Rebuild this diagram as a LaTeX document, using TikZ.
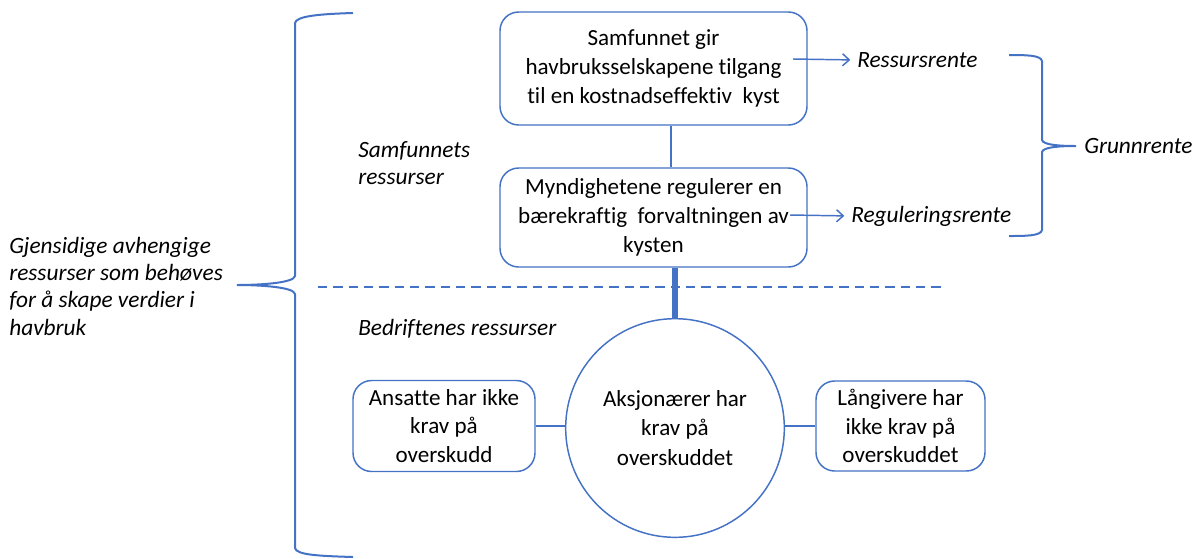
\documentclass[tikz,border=0pt]{standalone}
\usepackage{fontspec}
\setmainfont[Ligatures={NoCommon}]{Carlito}
\usetikzlibrary{arrows.meta,calc}
\definecolor{obl}{HTML}{4472C4}
\tikzset{
  rbox/.style={draw=obl, line width=1.1pt, rounded corners=14pt, align=center, inner sep=2pt, font=\fontsize{17.3}{21.5}\selectfont},
  lbl/.style={align=left, inner sep=0pt, font=\fontsize{17.5}{20.5}\selectfont\itshape},
  con/.style={draw=obl, line width=1.1pt},
  arr/.style={draw=obl, line width=1.1pt, shorten >=5pt, -{Straight Barb[length=5pt,width=9pt]}},
  brace/.style={draw=obl, line width=1.5pt}
}
\begin{document}
\begin{tikzpicture}[x=0.75pt,y=-0.75pt]
\useasboundingbox (0,0) rectangle (1200,558);
% boxes
\node[rbox, minimum width=230.25pt, minimum height=84.75pt] (b1) at (653.5,68.5)
  {Samfunnet gir\\havbruksselskapene tilgang\\til en kostnadseffektiv\ \ kyst};
\node[rbox, minimum width=230.25pt, minimum height=74.25pt] (b2) at (653.5,217.5)
  {Myndighetene regulerer en\\bærekraftig\ \ forvaltningen av\\kysten};
\node[rbox, minimum width=136.5pt, minimum height=68.25pt] (la) at (444,426)
  {Ansatte har ikke\\krav på\\overskudd};
\node[rbox, minimum width=126.75pt, minimum height=67.5pt] (ra) at (900.5,426)
  {Långivere har\\ikke krav på\\overskuddet};
\node[draw=obl, line width=1.1pt, circle, minimum size=164pt, inner sep=0pt, align=center,
  font=\fontsize{17.3}{22}\selectfont] (ci) at (675,428)
  {Aksjonærer har\\krav på\\overskuddet};
% labels
\node[lbl, anchor=west] (rr) at (857,60) {Ressursrente};
\node[lbl, anchor=west] (rg) at (851,216) {Reguleringsrente};
\node[lbl, anchor=west] (gr) at (1084,146) {Grunnrente};
\node[lbl, anchor=west] (sr) at (358,163) {Samfunnets\\ressurser};
\node[lbl, anchor=west] (br) at (358,329) {Bedriftenes ressurser};
\node[lbl, anchor=west] (gj) at (9,286)
  {Gjensidige avhengige\\ressurser som behøves\\for å skape verdier i\\havbruk};
% connectors
\coordinate (v1) at (671,0);
\draw[con] (b1.south -| v1) -- (b2.north -| v1);
\draw[draw=obl, line width=3.8pt] (b2.south -| ci) -- (ci.north);
\draw[con] (la.east) -- (la.east -| ci.west);
\draw[con] (ci.east |- ra.west) -- (ra.west);
\coordinate (a1) at (793,59);
\coordinate (a2) at (790,215);
\draw[arr] (a1) -- (rr.west);
\draw[arr] (a2) -- (rg.west);
% dashed separator
\coordinate (d1) at (318,287);
\coordinate (d2) at (945,287);
\draw[draw=obl, line width=1.1pt, dash pattern=on 7pt off 4.5pt] (d1) -- (d2);
% left brace
\draw[brace] (353,13) .. controls (320,14) and (296,16) .. (295,23)
  -- (295,276) .. controls (294,283) and (260,285) .. (237,285)
  .. controls (260,285) and (294,287) .. (295,294)
  -- (295,548) .. controls (296,555) and (320,556) .. (353,557);
% right brace
\draw[brace] (1009,55) .. controls (1025,55) and (1041,55) .. (1042,61)
  -- (1042,140) .. controls (1043,145) and (1060,146) .. (1076,146)
  .. controls (1060,146) and (1043,147) .. (1042,152)
  -- (1042,230) .. controls (1041,236) and (1025,236) .. (1009,236);
\end{tikzpicture}
\end{document}
